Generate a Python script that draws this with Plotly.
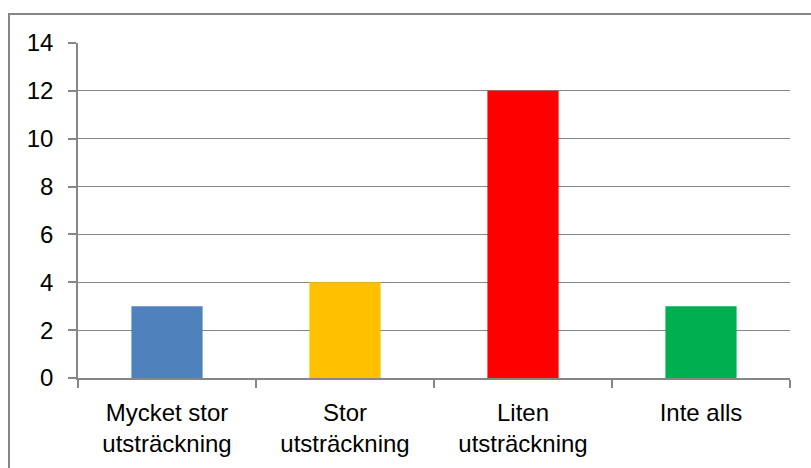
import plotly.graph_objects as go

# ——— Data ———
categories = ["Mycket stor<br>utsträckning", "Stor<br>utsträckning",
              "Liten<br>utsträckning", "Inte alls"]
values     = [3, 4, 12, 3]
bar_colors = ["#4F81BD", "#FFC000", "#FF0000", "#00B050"]
y_ticks    = [0, 2, 4, 6, 8, 10, 12, 14]
# ————————————

AXIS_GREY = "#868686"
FONT = dict(family="Liberation Sans, Arial, sans-serif", size=24, color="#000000")

fig = go.Figure(go.Bar(
    x=categories,
    y=values,
    marker=dict(color=bar_colors, line=dict(width=0)),
    width=0.4,
    hoverinfo="skip",
))

fig.update_layout(
    width=811, height=468,
    margin=dict(l=78, r=21, t=43, b=90),
    paper_bgcolor="white",
    plot_bgcolor="white",
    font=FONT,
    showlegend=False,
)

fig.update_xaxes(
    type="category",
    showline=True, linecolor=AXIS_GREY, linewidth=1.5,
    ticks="outside", tickson="boundaries", ticklen=8,
    tickcolor=AXIS_GREY, tickwidth=1.5,
    showgrid=False,
    ticklabelstandoff=12,
)

fig.update_yaxes(
    range=[0, 14],
    tickvals=y_ticks,
    showline=True, linecolor=AXIS_GREY, linewidth=1.5,
    ticks="outside", ticklen=8, tickcolor=AXIS_GREY, tickwidth=1.5,
    showgrid=True, gridcolor=AXIS_GREY, gridwidth=1.2,
    zeroline=False,
    ticklabelstandoff=10,
)

# outer chart border (runs off the right and bottom edges like the source)
fig.add_shape(
    type="rect", xref="paper", yref="paper",
    x0=(9 - 78) / 712, x1=1.1, y0=-0.4, y1=1 + (43 - 14) / 335,
    line=dict(color=AXIS_GREY, width=2), fillcolor="rgba(0,0,0,0)",
    layer="below",
)

# drop the page's default body margin so the chart sits at the window's origin
fig.write_html(
    "out.html",
    config={"displayModeBar": False},
    post_script="document.body.style.margin='0';",
)
